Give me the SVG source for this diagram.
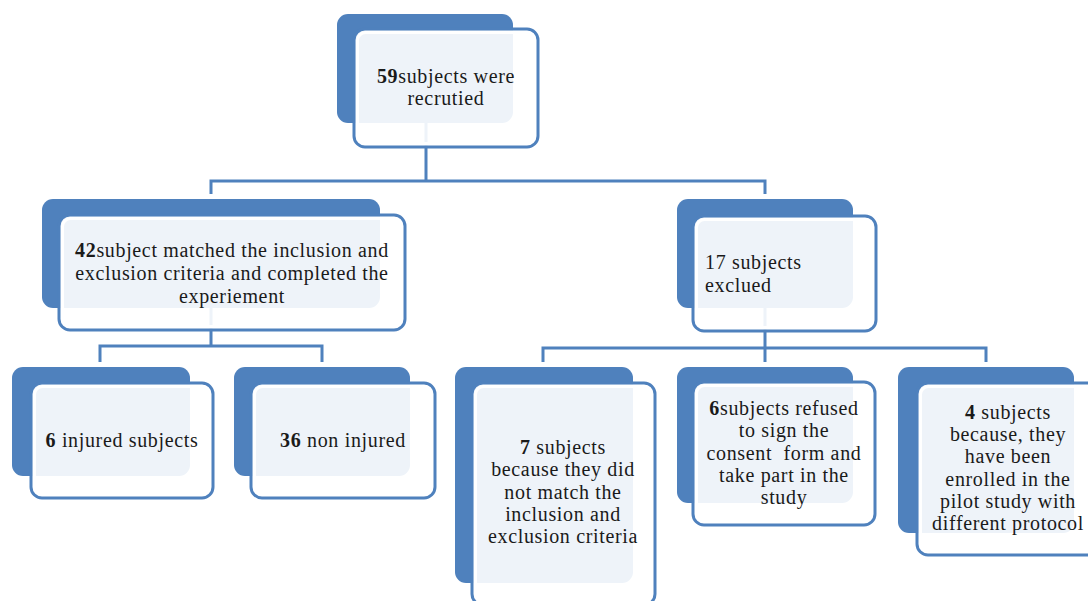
<svg xmlns="http://www.w3.org/2000/svg" width="1088" height="601" viewBox="0 0 1088 601">
<style>
.back{fill:#4f81bd;}
.front{fill:#ffffff;fill-opacity:0.9;stroke:#4f81bd;stroke-width:3;}
.inner{fill:none;stroke:#ffffff;stroke-width:3;}
.t{font-size:20px;letter-spacing:0.65px;fill:#1a1a1a;text-anchor:middle;}
.l{text-anchor:start;}
.b{font-weight:bold;}
.conn{fill:none;stroke:#4f81bd;stroke-width:3;}
</style>
<rect width="1088" height="601" fill="#ffffff"/>
<g id="connectors">
<path class="conn" d="M426,123 V181 M211,194 V181 H765 V194"/>
<path class="conn" d="M211,308 V346 M100,362 V346 H322 V362"/>
<path class="conn" d="M765,308 V362 M543,362 V348 H986 V362"/>
</g>
<g font-family="'Liberation Serif', 'DejaVu Serif', 'Noto Serif', 'Times New Roman', Times, serif">
<g id="n-recruited">
<rect class="back" x="337" y="14" width="176" height="109" rx="11"/>
<rect class="front" x="354" y="29" width="184" height="118" rx="11"/>
<rect class="inner" x="357.5" y="32.5" width="177" height="111" rx="8"/>
<text class="t" x="446" y="83"><tspan class="b">59</tspan>subjects were</text>
<text class="t" x="446" y="105.2">recrutied</text>
</g>
<g id="n-matched">
<rect class="back" x="42" y="199" width="338" height="109" rx="11"/>
<rect class="front" x="59" y="215" width="346" height="115" rx="11"/>
<rect class="inner" x="62.5" y="218.5" width="339" height="108" rx="8"/>
<text class="t" x="232" y="257"><tspan class="b">42</tspan>subject matched the inclusion and</text>
<text class="t" x="232" y="280">exclusion criteria and completed the</text>
<text class="t" x="232" y="303">experiement</text>
</g>
<g id="n-excluded">
<rect class="back" x="677" y="199" width="176" height="109" rx="11"/>
<rect class="front" x="693" y="216" width="183" height="115" rx="11"/>
<rect class="inner" x="696.5" y="219.5" width="176" height="108" rx="8"/>
<text class="t l" x="705" y="269">17 subjects</text>
<text class="t l" x="705" y="292">exclued</text>
</g>
<g id="n-injured">
<rect class="back" x="12" y="367" width="178" height="109" rx="11"/>
<rect class="front" x="31" y="383" width="182" height="115" rx="11"/>
<rect class="inner" x="34.5" y="386.5" width="175" height="108" rx="8"/>
<text class="t" x="122" y="447"><tspan class="b">6</tspan> injured subjects</text>
</g>
<g id="n-noninjured">
<rect class="back" x="234" y="367" width="176" height="109" rx="11"/>
<rect class="front" x="251" y="383" width="184" height="115" rx="11"/>
<rect class="inner" x="254.5" y="386.5" width="177" height="108" rx="8"/>
<text class="t" x="343" y="447"><tspan class="b">36</tspan> non injured</text>
</g>
<g id="n-criteria">
<rect class="back" x="455" y="367" width="178" height="216" rx="11"/>
<rect class="front" x="472" y="383" width="183" height="222" rx="11"/>
<rect class="inner" x="475.5" y="386.5" width="176" height="215" rx="8"/>
<text class="t" x="563" y="454.1"><tspan class="b">7</tspan> subjects</text>
<text class="t" x="563" y="476.3">because they did</text>
<text class="t" x="563" y="498.5">not match the</text>
<text class="t" x="563" y="520.7">inclusion and</text>
<text class="t" x="563" y="542.9">exclusion criteria</text>
</g>
<g id="n-consent">
<rect class="back" x="677" y="367" width="176" height="136" rx="11"/>
<rect class="front" x="693" y="382" width="182" height="143" rx="11"/>
<rect class="inner" x="696.5" y="385.5" width="175" height="136" rx="8"/>
<text class="t" x="784" y="415"><tspan class="b">6</tspan>subjects refused</text>
<text class="t" x="784" y="437.25">to sign the</text>
<text class="t" x="784" y="459.5" xml:space="preserve">consent  form and</text>
<text class="t" x="784" y="481.75">take part in the</text>
<text class="t" x="784" y="504">study</text>
</g>
<g id="n-pilot">
<rect class="back" x="898" y="367" width="176" height="166" rx="11"/>
<rect class="front" x="917" y="383" width="183" height="172" rx="11"/>
<rect class="inner" x="920.5" y="386.5" width="176" height="165" rx="8"/>
<text class="t" x="1008" y="419"><tspan class="b">4</tspan> subjects</text>
<text class="t" x="1008" y="441.2">because, they</text>
<text class="t" x="1008" y="463.4">have been</text>
<text class="t" x="1008" y="485.6">enrolled in the</text>
<text class="t" x="1008" y="507.8">pilot study with</text>
<text class="t" x="1008" y="530">different protocol</text>
</g>
</g>
</svg>
